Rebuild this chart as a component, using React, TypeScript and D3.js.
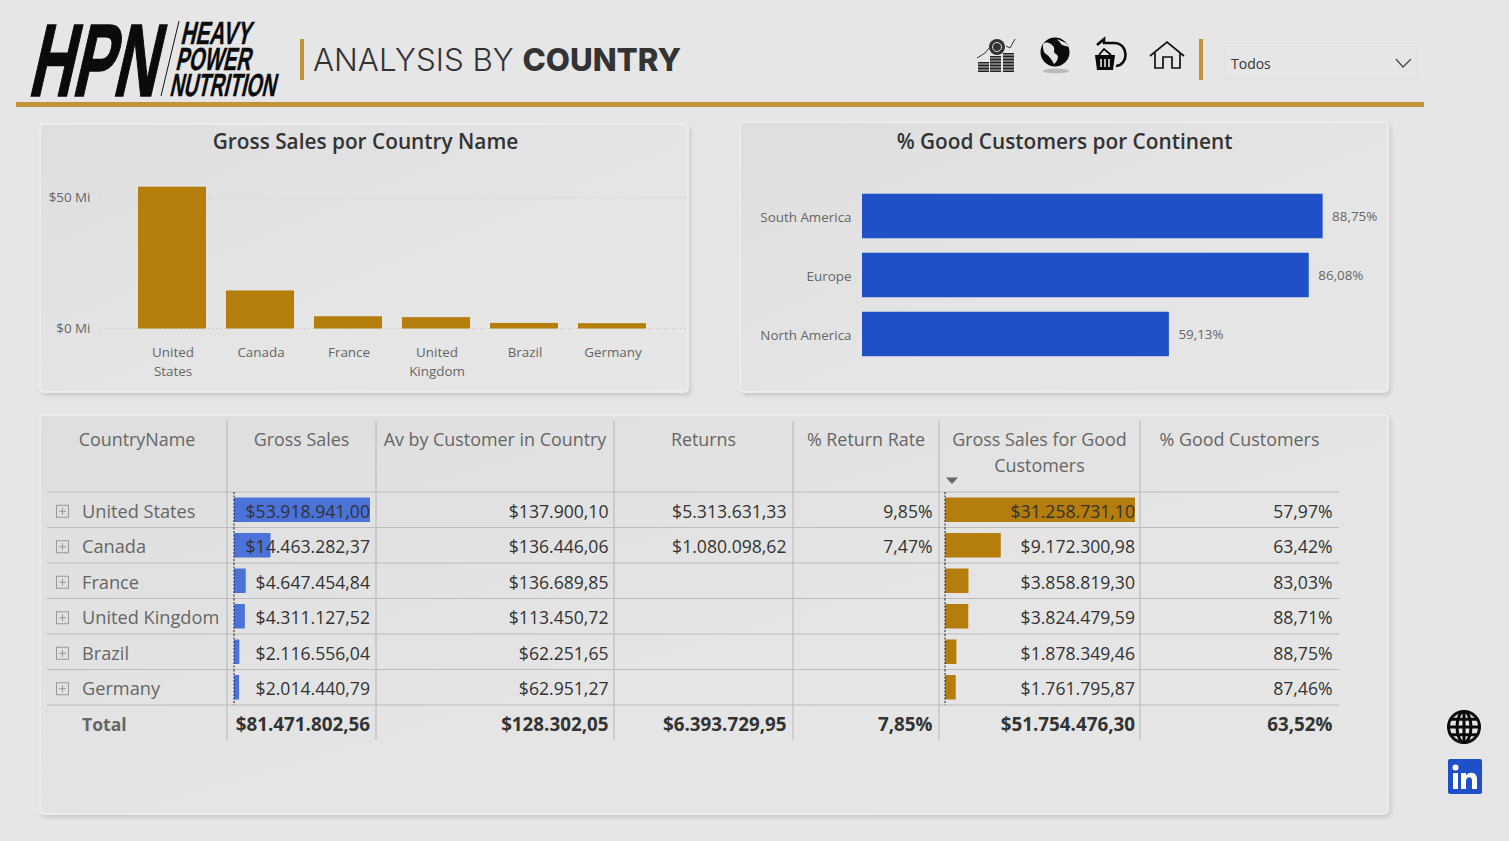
import { useEffect, useRef } from 'react';
import * as d3 from 'd3';

const salesCountries = ['United States', 'Canada', 'France', 'United Kingdom', 'Brazil', 'Germany'];
const salesTicks = [0, 50000000];
const grossSales = [53918941.0, 14463282.37, 4647454.84, 4311127.52, 2116556.04, 2014440.79];

const continents = ['South America', 'Europe', 'North America'];
const continentGood = [88.75, 86.08, 59.13];

const tableHeaders = [
  ['CountryName'],
  ['Gross Sales'],
  ['Av by Customer in Country'],
  ['Returns'],
  ['% Return Rate'],
  ['Gross Sales for Good', 'Customers'],
  ['% Good Customers'],
];
const avByCustomer = [137900.1, 136446.06, 136689.85, 113450.72, 62251.65, 62951.27];
const returns = [5313631.33, 1080098.62, null, null, null, null];
const returnRate = [9.85, 7.47, null, null, null, null];
const goodSales = [31258731.1, 9172300.98, 3858819.3, 3824479.59, 1878349.46, 1761795.87];
const goodPct = [57.97, 63.42, 83.03, 88.71, 88.75, 87.46];
const totals = ['$81.471.802,56', '$128.302,05', '$6.393.729,95', '7,85%', '$51.754.476,30', '63,52%'];

const FONT = '"Open Sans", sans-serif';
const GOLD = '#b47d0c';
const RULE = '#c29439';
const BLUE = '#1f50c8';
const BAR_BLUE = '#4a72d8';
const GRID = '#bcbcbc';

const locale = d3.formatLocale({ decimal: ',', thousands: '.', grouping: [3], currency: ['$', ''] });
const money = locale.format('$,.2f');
const pct = (v: number) => locale.format(',.2f')(v) + '%';

function Card({ x, y, w, h }: { x: number; y: number; w: number; h: number }) {
  return <rect x={x} y={y} width={w} height={h} rx={4} fill="url(#cardFill)" stroke="#efefef" strokeWidth={1.5} filter="url(#cardShadow)" />;
}

function Logo() {
  const small = { fontFamily: '"Liberation Sans Narrow", sans-serif', fontWeight: 700, fill: '#0b0b0b' };
  return (
    <g>
      <text transform="translate(27,96) skewX(-13)" fontSize={103} textLength={128} lengthAdjust="spacingAndGlyphs" stroke="#0b0b0b" strokeWidth={1.5} {...small}>HPN</text>
      <line x1={179} y1={21} x2={161} y2={96} stroke="#111" strokeWidth={1} />
      <text transform="translate(180,44) skewX(-13)" fontSize={32} textLength={70} lengthAdjust="spacingAndGlyphs" stroke="#0b0b0b" strokeWidth={0.4} {...small}>HEAVY</text>
      <text transform="translate(175,70) skewX(-13)" fontSize={32} textLength={75} lengthAdjust="spacingAndGlyphs" stroke="#0b0b0b" strokeWidth={0.4} {...small}>POWER</text>
      <text transform="translate(169,96) skewX(-13)" fontSize={32} textLength={106} lengthAdjust="spacingAndGlyphs" stroke="#0b0b0b" strokeWidth={0.4} {...small}>NUTRITION</text>
    </g>
  );
}

function GlobeLines({ cx, cy, r }: { cx: number; cy: number; r: number }) {
  return (
    <g fill="none" stroke="#0a0a0a" strokeWidth={3}>
      <circle cx={cx} cy={cy} r={r} />
      <ellipse cx={cx} cy={cy} rx={r * 0.45} ry={r} />
      <line x1={cx} y1={cy - r} x2={cx} y2={cy + r} />
      <line x1={cx - r} y1={cy} x2={cx + r} y2={cy} />
      <path d={`M${cx - r * 0.85} ${cy - r * 0.5}H${cx + r * 0.85}M${cx - r * 0.85} ${cy + r * 0.5}H${cx + r * 0.85}`} />
    </g>
  );
}

function Icons() {
  const coinX = [978, 990, 1003];
  const coinH = [10, 16, 19];
  return (
    <g>
      {/* coins */}
      <path d="M977 58L985 53L990 47M1006 46L1010 48L1015 39" fill="none" stroke="#333" strokeWidth={1} />
      <circle cx={997} cy={47} r={8} fill="#333" />
      <circle cx={997} cy={47} r={4.5} fill="none" stroke="#ddd" strokeWidth={1} />
      {coinX.map((x, i) => (
        <g key={x}>
          <rect x={x} y={72 - coinH[i]} width={11} height={coinH[i]} fill="#222" />
          {d3.range(72 - coinH[i] + 2, 72, 3).map((y) => (
            <line key={y} x1={x} x2={x + 11} y1={y} y2={y} stroke="#ddd" strokeWidth={0.9} />
          ))}
        </g>
      ))}
      {/* earth */}
      <ellipse cx={1056} cy={71} rx={13} ry={2.5} fill="#bbb" />
      <circle cx={1055} cy={52} r={14.5} fill="#0b0b0b" />
      <path d="M1043 44C1047 41 1050 43 1053 46C1056 49 1052 52 1056 54C1060 56 1057 62 1054 64C1052 60 1049 56 1046 54C1043 52 1043 48 1043 44Z" fill="#e4e4e4" />
      <path d="M1057 39L1066 43L1069 47L1062 45Z" fill="#e4e4e4" />
      {/* basket with return arrow */}
      <path d="M1097 45L1104 39V43H1114C1129 43 1129 65 1116 66" fill="none" stroke="#0a0a0a" strokeWidth={2.6} />
      <path d="M1095 55H1115L1113 70H1097Z" fill="#0a0a0a" />
      <path d="M1099 55L1104 49L1111 55" fill="none" stroke="#0a0a0a" strokeWidth={1.8} />
      <path d="M1101 59V67M1105 59V67M1109 59V67" stroke="#e4e4e4" strokeWidth={1.6} />
      {/* house */}
      <path d="M1150 56L1167 42L1184 56M1155 53V68H1163V57H1172V68H1180V53" fill="none" stroke="#111" strokeWidth={1.7} />
      {/* side links */}
      <GlobeLines cx={1464} cy={727} r={15.5} />
      <rect x={1448} y={759} width={34} height={35} rx={2} fill={BLUE} />
      <circle cx={1455.5} cy={767.5} r={3} fill="#fff" />
      <rect x={1453} y={773} width={5} height={16} fill="#fff" />
      <path d="M1461 773H1466V775.5C1468 771.5 1477 771 1477 779V789H1472V780.5C1472 776 1466 776.5 1466 781V789H1461Z" fill="#fff" />
    </g>
  );
}

export default function App() {
  const chartRef = useRef<SVGGElement>(null);

  useEffect(() => {
    if (!chartRef.current) return;
    const root = d3.select(chartRef.current);
    root.selectAll('*').remove();

    // Gross sales columns
    const x = d3.scaleBand<string>().domain(salesCountries).range([128, 656]).paddingInner(20 / 88).paddingOuter(10 / 88);
    const y = d3.scaleLinear().domain([0, 50000000]).range([328.5, 197]);
    const left = root.append('g');

    salesTicks.forEach((t) => {
      left.append('line')
        .attr('x1', 100).attr('x2', 686)
        .attr('y1', y(t)).attr('y2', y(t))
        .attr('stroke', '#cfcfcf').attr('stroke-dasharray', '1.5,2.5');
    });

    const yAxis = d3.axisLeft(y).tickValues(salesTicks).tickSize(0).tickFormat((d) => `$${+d / 1000000} Mi`);
    const yAxisG = left.append('g').attr('transform', 'translate(93.5,0)').call(yAxis);
    yAxisG.select('.domain').remove();
    yAxisG.selectAll('text').attr('fill', '#666').attr('font-size', 13.4).attr('font-family', FONT);

    salesCountries.forEach((c, i) => {
      left.append('rect')
        .attr('x', x(c)!).attr('width', x.bandwidth())
        .attr('y', y(grossSales[i])).attr('height', y(0) - y(grossSales[i]))
        .attr('fill', GOLD);
      c.split(' ').forEach((word, k) => {
        left.append('text')
          .attr('x', x(c)! + x.bandwidth() / 2 + 1)
          .attr('y', 357 + k * 19)
          .attr('text-anchor', 'middle')
          .attr('fill', '#666').attr('font-size', 13.4).attr('font-family', FONT)
          .text(word);
      });
    });

    // Good customers by continent
    const cx = d3.scaleLinear().domain([0, 100]).range([862, 1381]);
    const cy = d3.scaleBand<string>().domain(continents).range([186.5, 363.5]).paddingInner(14.5 / 59).paddingOuter(7.25 / 59);
    const right = root.append('g');
    continents.forEach((c, i) => {
      right.append('rect')
        .attr('x', cx(0)).attr('width', cx(continentGood[i]) - cx(0))
        .attr('y', cy(c)!).attr('height', cy.bandwidth())
        .attr('fill', BLUE);
      right.append('text')
        .attr('x', 851.5).attr('y', cy(c)! + cy.bandwidth() / 2 + 2)
        .attr('text-anchor', 'end').attr('dominant-baseline', 'middle')
        .attr('fill', '#666').attr('font-size', 13.4).attr('font-family', FONT)
        .text(c);
      right.append('text')
        .attr('x', cx(continentGood[i]) + 9.5).attr('y', cy(c)! + cy.bandwidth() / 2 + 1)
        .attr('dominant-baseline', 'middle')
        .attr('fill', '#666').attr('font-size', 13.4).attr('font-family', FONT)
        .text(locale.format(',.2f')(continentGood[i]) + '%');
    });

    // Table
    const edges = [47, 227, 376, 614, 793, 939, 1140, 1339];
    const rowY = d3.scaleLinear().domain([0, 7]).range([492, 740.5]);
    const table = root.append('g').attr('font-family', FONT);

    edges.slice(1, -1).forEach((e) => {
      table.append('line').attr('x1', e).attr('x2', e).attr('y1', 421).attr('y2', 740)
        .attr('stroke', GRID).attr('stroke-width', 1.2);
    });
    d3.range(0, 7).forEach((i) => {
      table.append('line').attr('x1', edges[0]).attr('x2', edges[7]).attr('y1', rowY(i)).attr('y2', rowY(i))
        .attr('stroke', GRID).attr('stroke-width', 1.2);
    });

    tableHeaders.forEach((lines, c) => {
      lines.forEach((line, k) => {
        table.append('text')
          .attr('x', (edges[c] + edges[c + 1]) / 2)
          .attr('y', 446 + k * 25.5)
          .attr('text-anchor', 'middle')
          .attr('fill', '#666').attr('font-size', 17.9)
          .text(line);
      });
    });
    table.append('path').attr('d', d3.line()([[946, 477.5], [958, 477.5], [952, 484]]) + 'Z').attr('fill', '#666');

    const salesBar = d3.scaleLinear().domain([0, d3.max(grossSales)!]).range([234, 370]);
    const goodBar = d3.scaleLinear().domain([0, d3.max(goodSales)!]).range([945, 1135]);

    const columns: { right: number; values: (number | null)[]; fmt: (v: number) => string }[] = [
      { right: 370, values: grossSales, fmt: money },
      { right: 608.5, values: avByCustomer, fmt: money },
      { right: 786.5, values: returns, fmt: money },
      { right: 932.5, values: returnRate, fmt: pct },
      { right: 1135, values: goodSales, fmt: money },
      { right: 1332.5, values: goodPct, fmt: pct },
    ];

    salesCountries.forEach((country, i) => {
      const top = rowY(i);
      const mid = top + 17.75;

      const box = table.append('g').attr('fill', 'none').attr('stroke', '#999');
      box.append('rect').attr('x', 56.5).attr('y', mid - 4.5).attr('width', 12).attr('height', 12);
      box.append('path').attr('d', `M59 ${mid + 1.5}H66M62.5 ${mid - 2}V${mid + 5}`);

      table.append('text').attr('x', 82).attr('y', mid + 8)
        .attr('fill', '#666').attr('font-size', 18.2).text(country);

      [
        { scale: salesBar, value: grossSales[i], color: BAR_BLUE },
        { scale: goodBar, value: goodSales[i], color: GOLD },
      ].forEach(({ scale, value, color }) => {
        table.append('rect')
          .attr('x', scale(0)).attr('y', top + 5.5)
          .attr('width', scale(value) - scale(0)).attr('height', 24.5)
          .attr('fill', color);
        table.append('line')
          .attr('x1', scale(0)).attr('x2', scale(0))
          .attr('y1', top).attr('y2', top + 35.5)
          .attr('stroke', '#222').attr('stroke-dasharray', '2,1.5');
      });

      columns.forEach((col) => {
        const v = col.values[i];
        if (v === null) return;
        table.append('text').attr('x', col.right).attr('y', mid + 8)
          .attr('text-anchor', 'end').attr('fill', '#333').attr('font-size', 17.6)
          .text(col.fmt(v));
      });
    });

    const totalMid = rowY(6) + 19;
    table.append('text').attr('x', 82).attr('y', totalMid + 6.5)
      .attr('fill', '#666').attr('font-size', 17.6).attr('font-weight', 700).text('Total');
    totals.forEach((t, c) => {
      table.append('text').attr('x', columns[c].right).attr('y', totalMid + 6.5)
        .attr('text-anchor', 'end').attr('fill', '#333').attr('font-size', 18.8).attr('font-weight', 700)
        .text(t);
    });
  }, []);

  return (
    <>
      <style>{'body{margin:0;overflow:hidden}'}</style>
      <svg width={1509} height={841} style={{ display: 'block' }}>
        <defs>
          <linearGradient id="cardFill" x1="0" y1="0" x2="1" y2="1">
            <stop offset="0" stopColor="#dedede" />
            <stop offset="0.6" stopColor="#e5e5e5" />
            <stop offset="1" stopColor="#e6e6e6" />
          </linearGradient>
          <filter id="cardShadow" x="-3%" y="-3%" width="106%" height="106%">
            <feDropShadow dx={2} dy={3} stdDeviation={2} floodColor="#000" floodOpacity={0.12} />
          </filter>
        </defs>
        <rect width={1509} height={841} fill="#e6e6e6" />

        <Logo />
        <rect x={300} y={39} width={4} height={41} fill={RULE} />
        <text x={313} y={71} fontFamily="Inter, sans-serif" fontSize={31.3} fill="#333">
          <tspan fontWeight={300}>ANALYSIS BY </tspan>
          <tspan fontWeight={800}>COUNTRY</tspan>
        </text>
        <Icons />
        <rect x={1199} y={39} width={4} height={41} fill={RULE} />
        <rect x={1224.5} y={46.5} width={193} height={31.5} fill="none" stroke="#e0e0e0" />
        <text x={1231} y={69} fontFamily={FONT} fontSize={14} fill="#333">Todos</text>
        <path d="M1396 59L1403 67L1411 59" fill="none" stroke="#444" strokeWidth={1.2} />
        <rect x={16} y={102} width={1408} height={5} fill={RULE} />

        <Card x={40} y={124} w={648} h={268} />
        <Card x={740} y={122} w={648} h={270} />
        <Card x={40} y={415} w={1348} h={399} />

        <text x={365.5} y={149} textAnchor="middle" fontFamily={FONT} fontSize={20.8} fontWeight={600} fill="#333">Gross Sales por Country Name</text>
        <text x={1064.5} y={149} textAnchor="middle" fontFamily={FONT} fontSize={20.8} fontWeight={600} fill="#333">% Good Customers por Continent</text>

        <g ref={chartRef} />
      </svg>
    </>
  );
}
